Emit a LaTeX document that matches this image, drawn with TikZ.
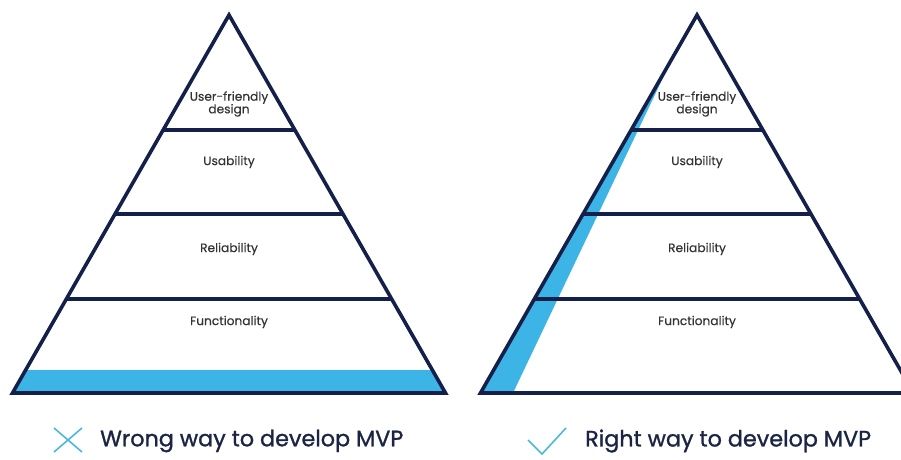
\documentclass[tikz,border=0pt]{standalone}
\usepackage{fontspec}
\setmainfont{Poppins}
\newfontfamily\tierfont[FakeBold=0.4]{Poppins}
\newfontfamily\capfont[FakeBold=1.2]{Poppins}
\usetikzlibrary{positioning}

\definecolor{navy}{HTML}{14204A}
\definecolor{skyband}{HTML}{3DB4E6}
\definecolor{iconblue}{HTML}{4DB9D9}
\definecolor{captext}{HTML}{1C2444}

\begin{document}
\begin{tikzpicture}[x=1pt, y=-1pt,
  outline/.style = {draw=navy, line width=3.6pt, line join=miter},
  divider/.style = {draw=navy, line width=3.2pt},
  band/.style = {fill=skyband},
  tier/.style = {font=\tierfont\fontsize{12.2}{12.6}\selectfont, text=black!80, align=center, inner sep=0pt},
  caption/.style = {font=\capfont\fontsize{22.3}{24}\selectfont, text=captext, anchor=west, inner sep=0pt},
  icon/.style = {draw=iconblue, line width=1.6pt}]

  \useasboundingbox (0,0) rectangle (901,459);
  \clip (0,0) rectangle (901,459);

  \newcommand{\mvplabels}[1]{
    \node[tier] (#1-top) at (0,104) {User-friendly\\design};
    \node[tier] (#1-use) at (0,162) {Usability};
    \node[tier] (#1-rel) at (0,249) {Reliability};
    \node[tier] (#1-fun) at (0,322) {Functionality};
  }
  \newcommand{\mvpframe}{
    \draw[divider] (-65.9,130) -- (65.9,130);
    \draw[divider] (-114.0,214) -- (114.0,214);
    \draw[divider] (-162.7,299) -- (162.7,299);
    \draw[outline] (0,15) -- (216.5,393) -- (-216.5,393) -- cycle;
  }

  % wrong way: only the base layer gets built
  \begin{scope}[xshift=229pt]
    \fill[band] (-203.3,370) -- (203.3,370) -- (216.5,393) -- (-216.5,393) -- cycle;
    \mvpframe
    \mvplabels{wrong}
  \end{scope}

  % right way: a thin slice through every layer
  \begin{scope}[xshift=697pt]
    \fill[band] (-24.6,58) -- (-184,393) -- (-216.5,393) -- cycle;
    \mvpframe
    \mvplabels{right}
  \end{scope}

  \coordinate (xa) at (54,428);
  \coordinate (xb) at (82,452);
  \coordinate (xc) at (82,428);
  \coordinate (xd) at (54,452);
  \draw[icon] (xa) -- (xb) (xc) -- (xd);
  \node[caption] (wrongcap) at (100,441) {Wrong way to develop MVP};

  \coordinate (ca) at (528,440);
  \coordinate (cb) at (542,454);
  \coordinate (cc) at (566,428);
  \draw[icon] (ca) -- (cb) -- (cc);
  \node[caption] (rightcap) at (585,441) {Right way to develop MVP};

\end{tikzpicture}
\end{document}
